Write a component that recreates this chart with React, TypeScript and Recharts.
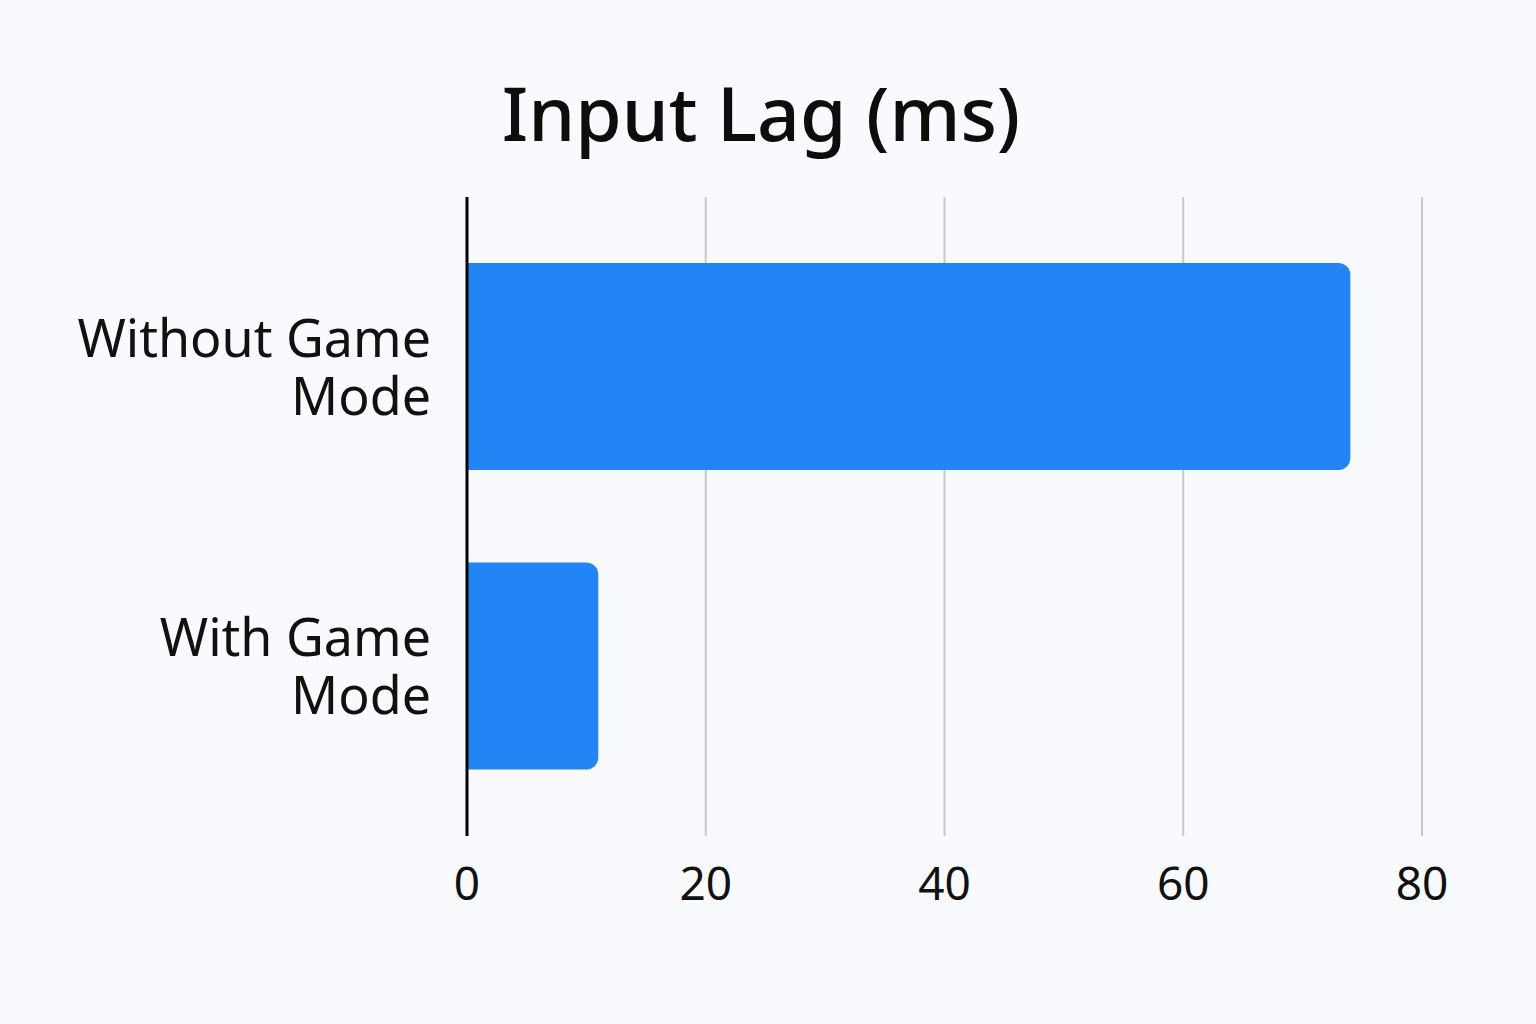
import React from "react";
import { BarChart, Bar, XAxis, YAxis, CartesianGrid } from "recharts";

const categories = ["Without Game\nMode", "With Game\nMode"];
const lagValues = [74, 11];
const xTicks = [0, 20, 40, 60, 80];

const data = categories.map((name, i) => ({ name, lag: lagValues[i] }));

const FONT = "'Noto Sans', 'Open Sans', sans-serif";

function CategoryTick(props: any) {
  const { x, y, payload } = props;
  const lines: string[] = String(payload.value).split("\n");
  const lineH = 58;
  const startDy = -((lines.length - 1) * lineH) / 2 + 19;
  return (
    <text x={x - 28} y={y} textAnchor="end" fontSize={52} fill="#111" fontFamily={FONT}>
      {lines.map((l, i) => (
        <tspan key={i} x={x - 28} dy={i === 0 ? startDy : lineH}>
          {l}
        </tspan>
      ))}
    </text>
  );
}

export default function App() {
  return (
    <div
      style={{
        position: "fixed",
        left: 0,
        top: 0,
        width: 1536,
        height: 1024,
        background: "#f9fafd",
        fontFamily: FONT,
      }}
    >
      <div
        style={{
          position: "absolute",
          top: 62,
          left: 0,
          width: 1522,
          textAlign: "center",
          fontSize: 75,
          fontWeight: 500,
          color: "#0d0d0d",
          lineHeight: "100px",
        }}
      >
        Input Lag (ms)
      </div>
      <BarChart
        width={1536}
        height={1024}
        data={data}
        layout="vertical"
        margin={{ top: 197, right: 114, bottom: 128, left: 0 }}
        barSize={207}
      >
        <CartesianGrid horizontal={false} stroke="#c9c9c9" strokeWidth={2} />
        <XAxis
          type="number"
          domain={[0, 80]}
          ticks={xTicks}
          axisLine={false}
          tickLine={false}
          height={60}
          tickMargin={25}
          tick={{ fontSize: 46, fill: "#111", fontFamily: FONT }}
        />
        <YAxis
          type="category"
          dataKey="name"
          width={467}
          padding={{ top: 20, bottom: 20 }}
          axisLine={{ stroke: "#000", strokeWidth: 3 }}
          tickLine={false}
          tick={<CategoryTick />}
        />
        <Bar dataKey="lag" fill="#2385f5" radius={[0, 12, 12, 0]} isAnimationActive={false} />
      </BarChart>
    </div>
  );
}
